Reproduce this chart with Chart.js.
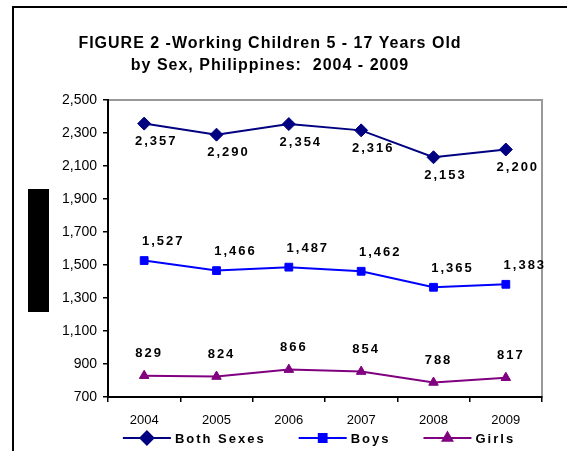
<!DOCTYPE html>
<html>
<head>
<meta charset="utf-8">
<script src="https://cdn.jsdelivr.net/npm/chart.js@4/dist/chart.umd.min.js"></script>
<style>
  html, body { margin: 0; padding: 0; background: #fff; }
  #wrap { width: 567px; height: 451px; position: relative; }
</style>
</head>
<body>
<div id="wrap"><canvas id="chart1"></canvas></div>
<script>
// data (thousands)
const years = ["2004", "2005", "2006", "2007", "2008", "2009"];
const bothSexes = [2357, 2290, 2354, 2316, 2153, 2200];
const boys = [1527, 1466, 1487, 1462, 1365, 1383];
const girls = [829, 824, 866, 854, 788, 817];
const seriesNames = ["Both Sexes", "Boys", "Girls"];
const titleLines = ["FIGURE 2 -Working Children 5 - 17 Years Old", "by Sex, Philippines:  2004 - 2009"];
const yMin = 700, yMax = 2500, yStep = 200;

const FONT = "'Liberation Sans', Arial, sans-serif";

function fmt(v) {
  return v.toLocaleString("en-US");
}

function marker(ctx, style, radius, x, y) {
  if (Chart.helpers && Chart.helpers.drawPoint) {
    Chart.helpers.drawPoint(ctx, { pointStyle: style, radius: radius, rotation: 0, borderWidth: 1 }, x, y);
  }
}

// frame, blacked-out axis title, grey plot border
const backdrop = {
  id: "backdrop",
  beforeDraw(chart) {
    const ctx = chart.ctx;
    const a = chart.chartArea;
    ctx.save();
    ctx.strokeStyle = "#000";
    ctx.lineWidth = 2;
    ctx.beginPath();
    ctx.moveTo(13, 451);
    ctx.lineTo(13, 7);
    ctx.lineTo(567, 7);
    ctx.stroke();
    ctx.fillStyle = "#000";
    ctx.fillRect(28, 189, 21, 123);
    ctx.strokeStyle = "#999";
    ctx.lineWidth = 2;
    ctx.strokeRect(a.left, a.top, a.right - a.left, a.bottom - a.top);
    ctx.restore();
  }
};

// value labels next to every point
const valueLabels = {
  id: "valueLabels",
  afterDatasetsDraw(chart) {
    const ctx = chart.ctx;
    ctx.save();
    ctx.font = "bold 13px " + FONT;
    ctx.letterSpacing = "2px";
    ctx.fillStyle = "#000";
    ctx.textAlign = "center";
    ctx.textBaseline = "middle";
    chart.data.datasets.forEach((ds, i) => {
      const meta = chart.getDatasetMeta(i);
      meta.data.forEach((pt, j) => {
        ctx.fillText(fmt(ds.data[j]), pt.x + ds.labelDx, pt.y + ds.labelDy);
      });
    });
    ctx.restore();
  }
};

// title and Excel style legend (line + marker)
const titleLegend = {
  id: "titleLegend",
  afterDraw(chart) {
    const ctx = chart.ctx;
    const a = chart.chartArea;
    ctx.save();
    ctx.fillStyle = "#000";
    ctx.font = "bold 16px " + FONT;
    ctx.letterSpacing = "1px";
    ctx.textAlign = "center";
    ctx.textBaseline = "alphabetic";
    ctx.fillText(titleLines[0], 270, 48);
    ctx.fillText(titleLines[1], 270, 70);

    ctx.font = "bold 13px " + FONT;
    ctx.letterSpacing = "2px";
    ctx.textAlign = "left";
    ctx.textBaseline = "middle";
    const lineLen = 48, gapText = 4, gapItem = 33;
    const items = chart.data.datasets.map(ds => ({ ds: ds, w: ctx.measureText(ds.label).width }));
    let total = 0;
    items.forEach((it, i) => { total += lineLen + gapText + it.w + (i < items.length - 1 ? gapItem : 0); });
    let x = (a.left + a.right) / 2 - 6 - total / 2;
    const y = 438;
    items.forEach(it => {
      const ds = it.ds;
      ctx.strokeStyle = ds.borderColor;
      ctx.lineWidth = 2;
      ctx.beginPath();
      ctx.moveTo(x, y);
      ctx.lineTo(x + lineLen, y);
      ctx.stroke();
      ctx.fillStyle = ds.borderColor;
      marker(ctx, ds.pointStyle, ds.pointRadius, x + lineLen / 2, y);
      ctx.fillStyle = "#000";
      ctx.fillText(ds.label, x + lineLen + gapText, y + 1);
      x += lineLen + gapText + it.w + gapItem;
    });
    ctx.restore();
  }
};

const ctx = document.getElementById("chart1").getContext("2d");
const chart = new Chart(ctx, {
  type: "line",
  data: {
    labels: years,
    datasets: [
      {
        label: seriesNames[0],
        data: bothSexes,
        borderColor: "#000080",
        backgroundColor: "#000080",
        pointStyle: "rectRot",
        pointRadius: 6.5,
        labelDx: 12,
        labelDy: 18,
      },
      {
        label: seriesNames[1],
        data: boys,
        borderColor: "#0000FF",
        backgroundColor: "#0000FF",
        pointStyle: "rect",
        pointRadius: 5.5,
        labelDx: 19,
        labelDy: -19,
      },
      {
        label: seriesNames[2],
        data: girls,
        borderColor: "#800080",
        backgroundColor: "#800080",
        pointStyle: "triangle",
        pointRadius: 5.5,
        labelDx: 5,
        labelDy: -22,
      },
    ],
  },
  options: {
    responsive: true,
    maintainAspectRatio: false,
    animation: false,
    events: [],
    elements: {
      line: { borderWidth: 2, tension: 0, fill: false },
      point: { borderWidth: 1, hoverRadius: 0 },
    },
    layout: { padding: { left: 0, right: 25, top: 100, bottom: 22 } },
    plugins: {
      legend: { display: false },
      title: { display: false },
      tooltip: { enabled: false },
    },
    scales: {
      x: {
        offset: true,
        grid: { offset: true, drawOnChartArea: false, drawTicks: true, tickLength: 5, color: "#000", lineWidth: 1.5 },
        border: { display: true, color: "#000", width: 2 },
        ticks: { color: "#000", font: { family: FONT, size: 13 }, padding: 11, maxRotation: 0 },
        afterFit(scale) { scale.height = 32; },
      },
      y: {
        min: yMin,
        max: yMax,
        grid: { drawOnChartArea: false, drawTicks: true, tickLength: 5, color: "#000", lineWidth: 1.5 },
        border: { display: true, color: "#000", width: 2 },
        ticks: { stepSize: yStep, color: "#000", font: { family: FONT, size: 14 }, padding: 6 },
        afterFit(scale) { scale.width = 108; },
      },
    },
  },
  plugins: [backdrop, valueLabels, titleLegend],
});
</script>
</body>
</html>
